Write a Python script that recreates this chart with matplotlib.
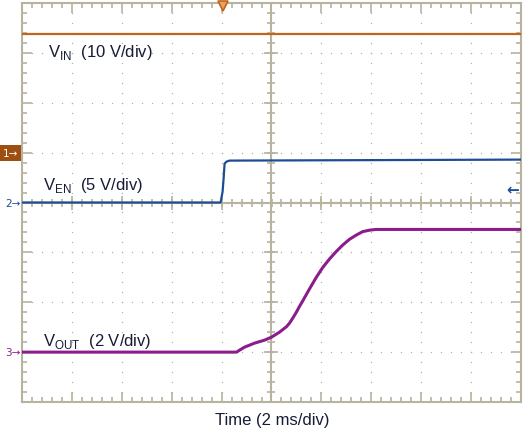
import numpy as np
import matplotlib.pyplot as plt
from matplotlib.transforms import blended_transform_factory

plt.rcParams['font.family'] = ['Liberation Sans', 'DejaVu Sans']
plt.rcParams['mathtext.fontset'] = 'custom'
plt.rcParams['mathtext.rm'] = 'Liberation Sans'

# scope settings
TIME_PER_DIV = 2.0                      # ms/div
VIN_SCALE, VEN_SCALE, VOUT_SCALE = 10.0, 5.0, 2.0   # V/div
VIN_OFFSET, VEN_OFFSET, VOUT_OFFSET = 1.0, 0.0, -3.0  # div from centre
TRIG_TIME = -1.96                       # ms
TRIG_LEVEL = 1.4                        # V on VEN

# traces (ms, V)
vin_t = [-10.0, 10.0]
vin_v = [23.8, 23.8]

ven_t = [-10.0, -2.04, -1.96, -1.92, -1.88, -1.8, -1.68, 10.0]
ven_v = [0.0, 0.0, 1.1, 2.4, 3.9, 4.1, 4.2, 4.3]

vout_t = [-10.0, -1.4, -1.28, -1.08, -0.68, -0.28, 0.0, 0.32, 0.6, 0.72, 0.85, 0.99,
          1.12, 1.25, 1.52, 1.79, 2.05, 2.32, 2.59, 2.85, 3.12, 3.39, 3.65, 3.92,
          4.19, 10.0]
vout_v = [0.0, 0.0, 0.08, 0.2, 0.36, 0.48, 0.6, 0.8, 1.02, 1.16, 1.36, 1.59,
          1.83, 2.05, 2.53, 2.99, 3.39, 3.73, 4.03, 4.29, 4.52, 4.69, 4.83, 4.89,
          4.92, 4.92]

FRAME = '#B7B39E'
C_VIN = '#C0661C'
C_VEN = '#1D4C96'
C_VOUT = '#8A1C8C'
C_TXT = '#161C36'


def to_div(t, v, scale, offset):
    return np.asarray(t) / TIME_PER_DIV, np.asarray(v) / scale + offset


fig = plt.figure(figsize=(5.27, 4.35), dpi=100)
ax = fig.add_axes([22 / 527, 1 - 403 / 435, 499 / 527, 399 / 435])
ax.set_xlim(-5, 5)
ax.set_ylim(-4, 4)

# frame + edge ticks
for s in ax.spines.values():
    s.set_color(FRAME)
    s.set_linewidth(1.5)
ax.set_xticks(np.arange(-5, 6, 1))
ax.set_yticks(np.arange(-4, 5, 1))
ax.set_xticks(np.arange(-5, 5.01, 0.2), minor=True)
ax.set_yticks(np.arange(-4, 4.01, 0.2), minor=True)
ax.tick_params(which='both', direction='in', top=True, right=True,
               labelbottom=False, labelleft=False, color=FRAME, width=1.2)
ax.tick_params(which='major', length=7)
ax.tick_params(which='minor', length=3.3)

# dotted graticule
gx = np.arange(-5, 5.01, 0.2)
gy = np.arange(-4, 4.01, 0.2)
for k in [-4, -3, -2, -1, 1, 2, 3, 4]:
    ax.scatter(np.full_like(gy, k), gy, s=1.0, color='#B0B0B0', lw=0, zorder=1)
for k in [-3, -2, -1, 1, 2, 3]:
    ax.scatter(gx, np.full_like(gx, k), s=1.0, color='#B0B0B0', lw=0, zorder=1)

# centre cross with ticks
ax.axhline(0, color=FRAME, lw=1.5, zorder=2)
ax.axvline(0, color=FRAME, lw=1.5, zorder=2)
ax.plot(gx, np.zeros_like(gx), ls='none', marker='|', ms=6, mew=1.2, color=FRAME, zorder=2)
ax.plot(np.zeros_like(gy), gy, ls='none', marker='_', ms=6, mew=1.2, color=FRAME, zorder=2)
ax.plot(np.arange(-5, 6, 1), np.zeros(11), ls='none', marker='|', ms=10, mew=1.2, color=FRAME, zorder=2)
ax.plot(np.zeros(9), np.arange(-4, 5, 1), ls='none', marker='_', ms=10, mew=1.2, color=FRAME, zorder=2)

# traces
x, y = to_div(vin_t, vin_v, VIN_SCALE, VIN_OFFSET)
ax.plot(x, y, color=C_VIN, lw=1.6, zorder=5)
x, y = to_div(ven_t, ven_v, VEN_SCALE, VEN_OFFSET)
ax.plot(x, y, color=C_VEN, lw=1.6, zorder=5, solid_joinstyle='round')
x, y = to_div(vout_t, vout_v, VOUT_SCALE, VOUT_OFFSET)
ax.plot(x, y, color=C_VOUT, lw=2.2, zorder=5, solid_joinstyle='round')

# trace labels
ax.text(-4.48, 2.94, r'V$_{\mathregular{IN}}$  (10 V/div)', fontsize=12, color=C_TXT, va='baseline')
ax.text(-4.58, 0.28, r'V$_{\mathregular{EN}}$  (5 V/div)', fontsize=12, color=C_TXT, va='baseline')
ax.text(-4.58, -2.86, r'V$_{\mathregular{OUT}}$  (2 V/div)', fontsize=12, color=C_TXT, va='baseline')

# trigger markers
ax.plot([TRIG_TIME / TIME_PER_DIV], [3.93], marker='v', ms=7, color=C_VIN, mfc='#E9A060',
        mew=1.2, clip_on=False, zorder=6)
ax.text(4.96, TRIG_LEVEL / VEN_SCALE + VEN_OFFSET, '\u2190', color=C_VEN, fontsize=11,
        fontweight='bold', ha='right', va='center', family='DejaVu Sans', zorder=6)

# channel ground markers on the left
tr = blended_transform_factory(fig.transFigure, ax.transData)
ax.text(10 / 527, VIN_OFFSET, '1\u2192', transform=tr, fontsize=7.5, color='white', ha='center',
        va='center', family='DejaVu Sans', clip_on=False,
        bbox=dict(boxstyle='square,pad=0.3', fc='#9E4E10', ec='none'))
ax.text(13 / 527, VEN_OFFSET, '2\u2192', transform=tr, fontsize=7.5, color=C_VEN, ha='center',
        va='center', family='DejaVu Sans', clip_on=False)
ax.text(13 / 527, VOUT_OFFSET, '3\u2192', transform=tr, fontsize=7.5, color=C_VOUT, ha='center',
        va='center', family='DejaVu Sans', clip_on=False)

fig.text(272 / 527, 1 - 425 / 435, 'Time (2 ms/div)', fontsize=12, color=C_TXT,
         ha='center', va='baseline')

fig.savefig('out.png', dpi=100)
